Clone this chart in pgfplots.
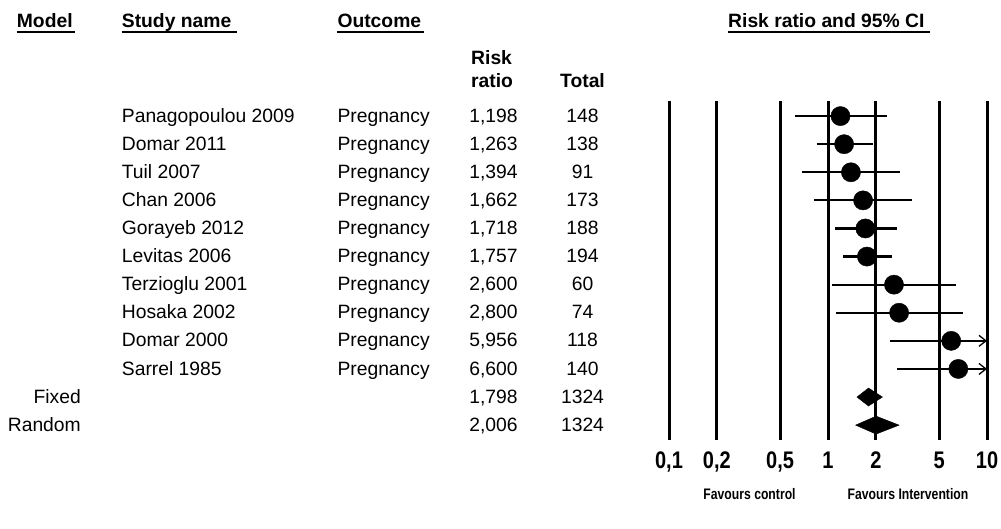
\documentclass[border=0pt]{standalone}
\usepackage{pgfplots}
\pgfplotsset{compat=1.18}
\usepackage{graphicx}
\usepackage{fontspec}
\setmainfont{Liberation Sans}
\usetikzlibrary{arrows.meta}

\newcommand\tl[1]{\scalebox{1}[1.2]{\fontsize{20}{22}\selectfont\bfseries #1}}
\newcommand\datarow[5]{%
  \pgfmathsetmacro\py{122.2+(#1-1)*28.09}%
  \node[anchor=base east] at (81,\py) {#2};
  \node[anchor=base west] at (121.7,\py) {#3};
  \ifx\relax#3\relax\else\node[anchor=base west] at (337.3,\py) {Pregnancy};\fi
  \node[anchor=base] at (493.5,\py) {#4};
  \node[anchor=base] at (582.5,\py) {#5};
}
\newcommand\hdr[3]{% x-left, x-right of underline, text
  \node[anchor=base west,font=\bfseries] at (#1,27.3) {#3};
  \draw[line width=1.8pt] (#1,31.7) -- (#2,31.7);
}

\begin{document}
\fontsize{19.3}{23}\selectfont
\begin{tikzpicture}[x=1pt,y=-1pt]
\path[use as bounding box] (0,0) rectangle (1001,528);
\begin{axis}[
  at={(669pt,-440pt)}, anchor=south west,
  scale only axis, width=318pt, height=338.8pt,
  xmode=log, xmin=0.1, xmax=10,
  ymin=0.47, ymax=12.53, y dir=reverse,
  axis line style={draw=none},
  xtick={0.1,0.2,0.5,1,2,5,10},
  xticklabels={{\tl{0,1}},{\tl{0,2}},{\tl{0,5}},{\tl{1}},{\tl{2}},{\tl{5}},{\tl{10}}},
  ytick=\empty,
  major tick length=0pt,
  xminorticks=false,
  xmajorgrids, major grid style={black, line width=3pt},
  xticklabel style={anchor=base, yshift=-28pt, inner sep=0pt},
  clip=false,
]
% confidence intervals (risk ratio, lower, upper)
\addplot[black, line width=2.2pt] coordinates {(0.62,1) (2.34,1)};
\addplot[black, line width=2.2pt] coordinates {(0.85,2) (1.91,2)};
\addplot[black, line width=2.2pt] coordinates {(0.69,3) (2.84,3)};
\addplot[black, line width=2.2pt] coordinates {(0.82,4) (3.39,4)};
\addplot[black, line width=2.2pt] coordinates {(1.11,5) (2.72,5)};
\addplot[black, line width=2.2pt] coordinates {(1.24,6) (2.52,6)};
\addplot[black, line width=2.2pt] coordinates {(1.06,7) (6.38,7)};
\addplot[black, line width=2.2pt] coordinates {(1.12,8) (7.03,8)};
\addplot[black, line width=2.2pt, -{Straight Barb[length=7pt,width=11pt,line width=1.3pt]}] coordinates {(2.45,9) (10,9)};
\addplot[black, line width=2.2pt, -{Straight Barb[length=7pt,width=11pt,line width=1.3pt]}] coordinates {(2.73,10) (10,10)};
% point estimates
\addplot[only marks, mark=*, mark size=9.6pt, black] coordinates {
 (1.198,1) (1.263,2) (1.394,3) (1.662,4) (1.718,5)
 (1.757,6) (2.600,7) (2.800,8) (5.956,9) (6.600,10)};
% pooled estimates
\addplot[black, fill=black] coordinates {(1.52,11) (1.798,10.68) (2.20,11) (1.798,11.32) (1.52,11)};
\addplot[black, fill=black] coordinates {(1.49,12) (2.006,11.68) (2.80,12) (2.006,12.32) (1.49,12)};
\end{axis}
\begin{scope}[every node/.style={inner sep=0pt}]
\hdr{16.7}{75}{Model}
\hdr{121.7}{236.7}{Study name}
\hdr{337.3}{424}{Outcome}
\hdr{728}{930}{Risk ratio and 95\% CI}
\node[anchor=base west,font=\bfseries] at (471,64.3) {Risk};
\node[anchor=base west,font=\bfseries] at (471,87.3) {ratio};
\node[anchor=base,font=\bfseries] at (582.5,87.3) {Total};
\datarow{1}{}{Panagopoulou 2009}{1,198}{148}
\datarow{2}{}{Domar 2011}{1,263}{138}
\datarow{3}{}{Tuil 2007}{1,394}{91}
\datarow{4}{}{Chan 2006}{1,662}{173}
\datarow{5}{}{Gorayeb 2012}{1,718}{188}
\datarow{6}{}{Levitas 2006}{1,757}{194}
\datarow{7}{}{Terzioglu 2001}{2,600}{60}
\datarow{8}{}{Hosaka 2002}{2,800}{74}
\datarow{9}{}{Domar 2000}{5,956}{118}
\datarow{10}{}{Sarrel 1985}{6,600}{140}
\datarow{11}{Fixed}{}{1,798}{1324}
\datarow{12}{Random}{}{2,006}{1324}
\node[anchor=base] at (749.5,499.3) {\scalebox{1}[1.25]{\fontsize{12.2}{14}\selectfont\bfseries Favours control}};
\node[anchor=base] at (908,499.3) {\scalebox{1}[1.25]{\fontsize{12.2}{14}\selectfont\bfseries Favours Intervention}};
\end{scope}
\end{tikzpicture}
\end{document}
